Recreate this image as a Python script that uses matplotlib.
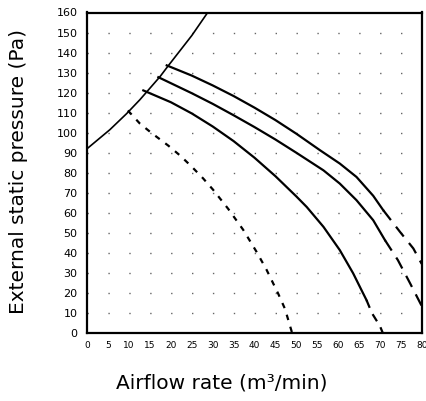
import matplotlib
matplotlib.use("Agg")
import matplotlib.pyplot as plt

# ---- data ----
x_ticks = list(range(0, 81, 5))
y_ticks = list(range(0, 161, 10))

limit_x = [0, 5.4, 9.4, 12.6, 17.4, 19.4, 25.0, 28.8]
limit_y = [92.1, 101.5, 109.5, 116.5, 128.0, 133.5, 148.5, 160.0]

a_x = [19.0, 25.0, 30.0, 35.0, 40.0, 45.0, 50.0, 55.7, 60.4, 64.4, 68.4, 70.8]
a_y = [133.6, 128.5, 123.6, 118.3, 112.5, 106.3, 99.5, 91.2, 84.6, 77.9, 68.5, 61.3]
a_ext_x = [70.8, 74.8, 78.0, 80.0]
a_ext_y = [61.3, 50.5, 42.2, 34.5]

b_x = [17.0, 25.0, 30.0, 35.0, 40.0, 45.0, 50.0, 56.5, 60.4, 64.4, 68.4, 71.2]
b_y = [127.7, 119.7, 114.4, 108.7, 102.8, 96.6, 90.0, 81.2, 74.6, 66.3, 56.3, 46.4]
b_ext_x = [71.2, 74.3, 77.2, 80.0]
b_ext_y = [46.4, 36.4, 24.9, 13.5]

c_x = [13.4, 20.0, 25.0, 30.0, 35.0, 40.0, 45.0, 50.0, 52.5, 56.5, 60.4, 63.6, 65.6, 66.8]
c_y = [121.1, 115.2, 109.6, 103.1, 95.8, 87.5, 78.3, 68.2, 62.9, 53.0, 41.4, 29.8, 21.4, 16.4]
c_ext_x = [66.8, 68.1, 70.0, 70.7]
c_ext_y = [16.4, 9.9, 3.5, 0.0]

d_x = [9.7, 12.6, 15.4, 19.4, 22.2, 25.0, 27.7, 30.1, 33.7, 37.3, 40.5, 42.9, 45.7, 47.3, 49.0]
d_y = [111.1, 104.5, 99.8, 93.5, 88.6, 83.0, 77.2, 71.5, 62.0, 51.5, 40.5, 31.5, 19.5, 12.0, 0.0]

plt.rcParams['lines.scale_dashes'] = False
plt.rcParams['font.family'] = ['DejaVu Sans']

W, H = 427, 401
fig = plt.figure(figsize=(W / 100, H / 100), dpi=100)
left, right, top, bottom = 87.3, 421.7, 12.5, 333.0
ax = fig.add_axes([left / W, 1 - bottom / H, (right - left) / W, (bottom - top) / H])

ax.set_xlim(0, 80)
ax.set_ylim(0, 160)
ax.set_xticks(x_ticks)
ax.set_yticks(y_ticks)
ax.tick_params(axis='both', length=0)
ax.tick_params(axis='y', pad=7, labelsize=8)
ax.tick_params(axis='x', pad=6, labelsize=6.5)

# dotted grid: dots at intersections
period_pt = (right - left) / 16 * 72 / 100
ax.grid(axis='y', color='0.4', lw=1.0, linestyle=(0, (1.0, period_pt - 1.0)))
ax.set_axisbelow(True)

for s in ax.spines.values():
    s.set_linewidth(1.6)

ax.plot(limit_x, limit_y, color='black', lw=1.2)
ax.plot(a_x, a_y, color='black', lw=1.6)
ax.plot(a_ext_x, a_ext_y, color='black', lw=1.6, linestyle=(0, (9, 6)))
ax.plot(b_x, b_y, color='black', lw=1.6)
ax.plot(b_ext_x, b_ext_y, color='black', lw=1.6, linestyle=(0, (9, 6)))
ax.plot(c_x, c_y, color='black', lw=1.6)
ax.plot(c_ext_x, c_ext_y, color='black', lw=1.6, linestyle=(0, (6, 5)))
ax.plot(d_x, d_y, color='black', lw=1.6, linestyle=(0, (4, 5)))

fig.text(19 / W, 1 - 172 / H, 'External static pressure (Pa)', rotation=90,
         ha='center', va='center', fontsize=14.5)
fig.text(222 / W, 1 - 383 / H, 'Airflow rate (m\u00b3/min)',
         ha='center', va='center', fontsize=14.5)

fig.savefig('out.png', dpi=100)
